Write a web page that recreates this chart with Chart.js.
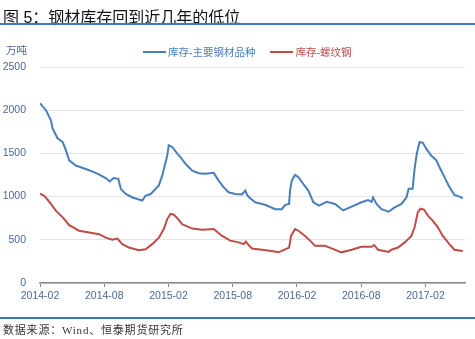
<!DOCTYPE html>
<html>
<head>
	<meta charset="UTF-8">
	<script src="https://cdn.jsdelivr.net/npm/chart.js@4.4.0/dist/chart.umd.min.js"></script>
	<title>钢材库存</title>
	<style>
		body { margin: 0; width: 475px; height: 339px; overflow: hidden; background: #fff;
			font-family: "Liberation Sans", "Noto Sans CJK SC", sans-serif; position: relative; }
		#chartBox { position: absolute; left: 0; top: 0; width: 475px; height: 339px; }
		#title { position: absolute; left: 3px; top: 4px; font-size: 16px; color: #111; white-space: nowrap; }
		.rule { position: absolute; left: 0; width: 475px; height: 2px; background: #3f78bf; }
		#unit { position: absolute; left: 6px; top: 42px; font-size: 10.5px; color: #4a6897; }
		#legend { position: absolute; left: 143px; top: 44px; font-size: 10.5px; white-space: nowrap; }
		#legend span.sw { display: inline-block; width: 23px; height: 2px; vertical-align: middle; margin-right: 2px; }
		#legend span.lab { vertical-align: middle; }
		#source { position: absolute; left: 3px; top: 321px; font-size: 11px; color: #333; letter-spacing: 0.8px;
			font-family: "Liberation Serif", "Noto Sans CJK SC", serif; white-space: nowrap; }
	</style>
</head>
<body>
	<div id="chartBox"><canvas id="stockChart"></canvas></div>
	<div id="title">图 5：钢材库存回到近几年的低位</div>
	<div class="rule" style="top:23px"></div>
	<div id="unit">万吨</div>
	<div id="legend">
		<span class="sw" style="background:#4a7ebb"></span><span class="lab" style="color:#4a7ebb">库存-主要钢材品种</span>
		<span class="sw" style="background:#be4b48;margin-left:12px"></span><span class="lab" style="color:#be4b48">库存-螺纹钢</span>
	</div>
	<div class="rule" style="top:317px"></div>
	<div id="source">数据来源：Wind、恒泰期货研究所</div>
	<script>
	// x = weeks since 2014-02
	const xTickLabels = ['2014-02', '2014-08', '2015-02', '2015-08', '2016-02', '2016-08', '2017-02'];

	const blueWeeks = [0,2.4,4.4,5.1,7.1,9.2,10.5,11.8,14.5,18.5,22.6,26.6,28.2,29.8,31.7,32.7,34.7,37.4,41.4,42.7,
		44.8,48.1,49.5,50.5,51.5,52.1,53.5,55.5,56.9,58.9,61.6,64.2,66.9,70.3,72.3,74.3,76.3,79,81.7,83.1,
		83.8,84.7,87.1,91.1,95.2,97.9,99.2,100.8,101.2,101.9,103.2,104.6,106.6,108.6,110.6,112.9,116,119.4,122.7,126.1,
		130.1,132.8,134.2,134.8,136.2,138.2,141.1,143.5,146.3,148.3,149.2,150.8,151.6,152.5,153.6,154.9,156.3,158.3,160.4,161.7,
		163.7,165.7,167.7,169.8,171.1];
	const blueVals = [2080,2000,1885,1790,1675,1630,1535,1420,1360,1320,1275,1215,1175,1215,1205,1090,1030,990,955,1010,
		1030,1130,1245,1360,1475,1595,1575,1500,1455,1380,1300,1270,1265,1275,1185,1110,1050,1030,1025,1070,
		1020,990,935,905,855,855,905,915,1070,1185,1250,1225,1145,1070,935,895,940,915,840,885,
		935,960,940,990,915,855,825,875,915,990,1090,1090,1320,1500,1630,1625,1555,1475,1420,1340,
		1225,1110,1020,1000,980];

	const redWeeks = [0,1.7,3.8,6.5,9.2,11.8,15.8,19.9,23.9,26.6,29.3,31.3,33.3,36,40,42.7,45.4,48.1,50.1,51.5,
		52.8,54.2,56.2,57.5,61.6,65.6,70.3,73.7,77,80.4,82.4,83.3,84.7,85.8,89.8,93.8,96.5,99.2,100.8,101.6,
		103.2,104.6,107.3,110,111.3,115.3,118,122,126.1,130.1,134.2,135.2,136.8,141.1,142.2,144.9,147.6,150.3,151.6,152.9,
		154,155.4,157,159,161,163,165.7,167.7,171.1];
	const redVals = [1035,1010,940,835,760,670,605,585,565,525,500,515,450,410,380,390,450,525,625,740,
		800,790,730,680,630,615,625,545,490,470,450,480,430,400,385,370,355,390,410,545,
		625,605,545,470,430,430,400,355,385,420,420,440,385,360,385,410,470,545,645,820,
		860,850,780,720,645,545,450,385,370];

	const toPts = (xs, ys) => xs.map((x, i) => ({x: x, y: ys[i]}));

	const ctx = document.getElementById('stockChart').getContext('2d');
	new Chart(ctx, {
		type: 'line',
		data: {
			datasets: [{
				label: '库存-主要钢材品种',
				data: toPts(blueWeeks, blueVals),
				borderColor: '#4a7ebb',
				borderWidth: 2,
				pointRadius: 0,
				tension: 0
			}, {
				label: '库存-螺纹钢',
				data: toPts(redWeeks, redVals),
				borderColor: '#be4b48',
				borderWidth: 2,
				pointRadius: 0,
				tension: 0
			}]
		},
		options: {
			responsive: true,
			maintainAspectRatio: false,
			animation: false,
			layout: { padding: { top: 67, right: 10, bottom: 0, left: 0 } },
			plugins: { legend: { display: false }, tooltip: { enabled: false } },
			scales: {
				x: {
					type: 'linear',
					min: 0,
					max: 172,
					afterBuildTicks: (axis) => {
						axis.ticks = xTickLabels.map((l, i) => ({ value: i * 26 }));
					},
					afterFit: (axis) => { axis.height = 56; },
					ticks: {
						color: '#4a6897',
						font: { size: 10.5, family: '"Liberation Sans", sans-serif' },
						padding: 3,
						maxRotation: 0,
						autoSkip: false,
						callback: (v) => xTickLabels[Math.round(v / 26)]
					},
					grid: { drawOnChartArea: false, drawTicks: true, tickLength: 4, color: '#888' },
					border: { display: true, color: '#888', width: 1.5 }
				},
				y: {
					min: 0,
					max: 2500,
					afterFit: (axis) => { axis.width = 40; },
					ticks: {
						stepSize: 500,
						color: '#4a6897',
						padding: 14,
						font: { size: 10.5, family: '"Liberation Sans", sans-serif' },
						callback: (v) => String(v)
					},
					grid: { color: '#e4e4e4', drawTicks: false },
					border: { display: false }
				}
			}
		}
	});
	</script>
</body>
</html>
